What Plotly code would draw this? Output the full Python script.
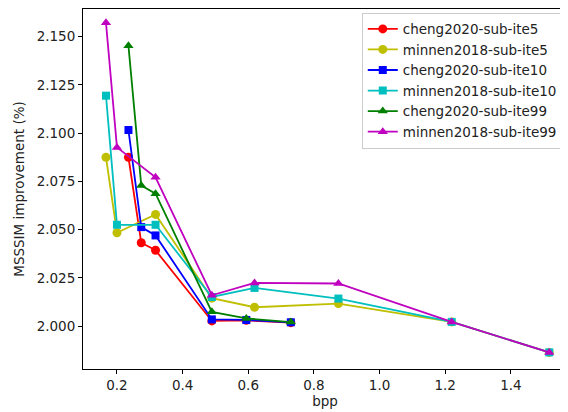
import plotly.graph_objects as go

cheng_bpp = [0.235, 0.274, 0.3175, 0.489, 0.594, 0.7296]
minnen_bpp = [0.1665, 0.200, 0.3175, 0.489, 0.619, 0.8746, 1.2197, 1.517]

cheng_ite5 = [2.0875, 2.0432, 2.0393, 2.0027, 2.0030, 2.0018]
minnen_ite5 = [2.0875, 2.0484, 2.0579, 2.0145, 2.0098, 2.0117, 2.0022, 1.9864]
cheng_ite10 = [2.1016, 2.0513, 2.0470, 2.0035, 2.0032, 2.0020]
minnen_ite10 = [2.1194, 2.0525, 2.0525, 2.0151, 2.0198, 2.0143, 2.0022, 1.9864]
cheng_ite99 = [2.1452, 2.0729, 2.0686, 2.0074, 2.0040, 2.0021]
minnen_ite99 = [2.1572, 2.0926, 2.0771, 2.0160, 2.0224, 2.0221, 2.0022, 1.9864]

series = [
    ("cheng2020-sub-ite5", cheng_bpp, cheng_ite5, "#FF0000", "circle"),
    ("minnen2018-sub-ite5", minnen_bpp, minnen_ite5, "#BFBF00", "circle"),
    ("cheng2020-sub-ite10", cheng_bpp, cheng_ite10, "#0000FF", "square"),
    ("minnen2018-sub-ite10", minnen_bpp, minnen_ite10, "#00BFBF", "square"),
    ("cheng2020-sub-ite99", cheng_bpp, cheng_ite99, "#008000", "triangle-up"),
    ("minnen2018-sub-ite99", minnen_bpp, minnen_ite99, "#BF00BF", "triangle-up"),
]

font = "DejaVu Sans, sans-serif"
fig = go.Figure()
for name, x, y, c, sym in series:
    fig.add_trace(go.Scatter(
        x=x, y=y, name=name, mode="lines+markers",
        line=dict(color=c, width=1.8),
        marker=dict(color=c, symbol=sym, size=9 if sym != "square" else 8),
    ))

axis_common = dict(
    showgrid=False, zeroline=False, showline=True, linecolor="black",
    linewidth=1, mirror=True, ticks="outside", ticklen=4, tickcolor="black",
    tickfont=dict(family=font, size=13.5, color="#222"), automargin=False,
)
fig.update_xaxes(range=[0.0965, 1.571], tickvals=[0.2, 0.4, 0.6, 0.8, 1.0, 1.2, 1.4],
                 ticktext=["0.2", "0.4", "0.6", "0.8", "1.0", "1.2", "1.4"],
                 title=dict(text="bpp", font=dict(family=font, size=13.5, color="#222"), standoff=4),
                 **axis_common)
fig.update_yaxes(range=[1.9778, 2.1643], tickvals=[2.000, 2.025, 2.050, 2.075, 2.100, 2.125, 2.150],
                 tickformat=".3f",
                 title=dict(text="MSSSIM improvement (%)", font=dict(family=font, size=13.5, color="#222"), standoff=8),
                 **axis_common)
fig.update_layout(
    width=560, height=404,
    margin=dict(l=75, r=1, t=1, b=43),
    plot_bgcolor="white", paper_bgcolor="white",
    font=dict(family=font, size=13.5, color="#222"),
    legend=dict(x=0.576, y=0.99, xanchor="left", yanchor="top",
                bgcolor="white", bordercolor="#CCCCCC", borderwidth=1,
                font=dict(family=font, size=13.5, color="#222"),
                tracegroupgap=0, itemwidth=30),
    showlegend=True,
)
fig.write_html("out.html")
